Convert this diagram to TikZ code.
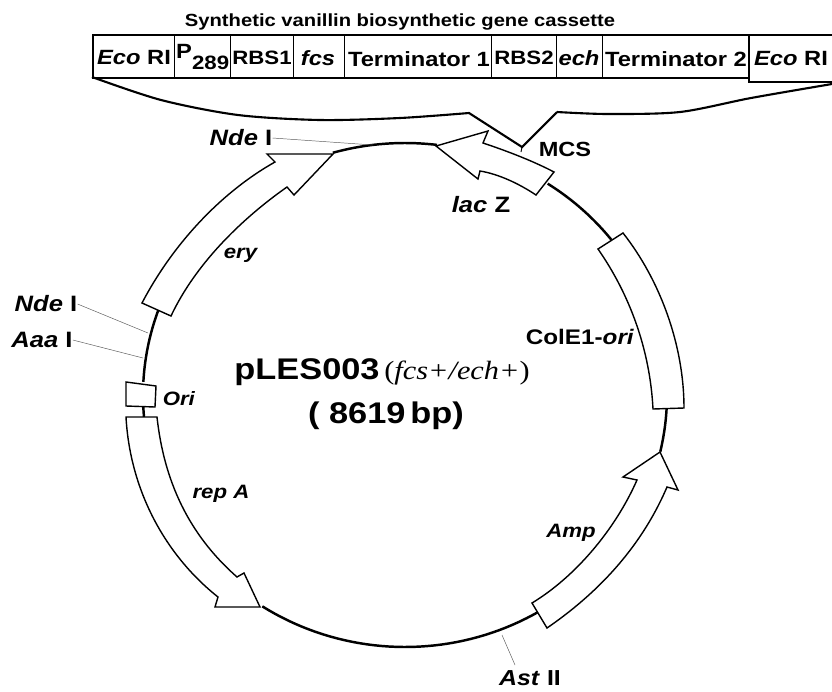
\documentclass[tikz,border=0pt]{standalone}
\usepackage{fontspec}
\setmainfont[FakeStretch=1.15]{Liberation Sans}
\newfontfamily\plasmidserif[FakeStretch=1.15]{Liberation Serif}
\newcommand{\gname}[1]{\textbf{\textit{#1}}}
\tikzset{
  gene/.style={line width=1.2pt, line join=miter, fill=white},
  backbone/.style={line width=2.1pt},
  leader/.style={line width=0.4pt, gray!70!black},
  cassette/.style={font=\bfseries\fontsize{17.6}{20}\selectfont, inner sep=0pt},
  lbl/.style={font=\bfseries\fontsize{16.5}{19}\selectfont, inner sep=0pt},
  lblbig/.style={font=\bfseries\fontsize{19}{22}\selectfont, inner sep=0pt}
}
\begin{document}
\begin{tikzpicture}[x=0.03cm,y=-0.03cm]

  \useasboundingbox (0,0) rectangle (832,691);

  % Cassette
  \node[cassette,font=\bfseries\fontsize{15}{18}\selectfont] (title) at (400,22)
    {Synthetic vanillin biosynthetic gene cassette};

  \draw[line width=1.3pt]
    (832,35) -- (93,35) -- (93,78) -- (749,78) -- (749,82) -- (832,82);
  \draw[line width=1.3pt] (749,35) -- (749,78);
  \foreach \sepx in {174,230,293,344,491,556,602}
    \draw[line width=0.5pt] (\sepx,35) -- (\sepx,78);

  \node[cassette] (ecoa) at (134,58) {\gname{Eco} RI};
  \node[cassette,anchor=west] (prom) at (176,57)
    {\raisebox{3pt}{P}\raisebox{-6pt}{\fontsize{16.5}{18}\selectfont 289}};
  \node[cassette,font=\bfseries\fontsize{16.5}{20}\selectfont] (rbsa) at (262,58) {RBS1};
  \node[cassette] (fcs) at (318,58) {\gname{fcs}};
  \node[cassette] (terma) at (419,59) {Terminator 1};
  \node[cassette,font=\bfseries\fontsize{16.5}{20}\selectfont] (rbsb) at (524,58) {RBS2};
  \node[cassette] (ech) at (579,58) {\gname{ech}};
  \node[cassette] (termb) at (676,59) {Terminator 2};
  \node[cassette] (ecob) at (791,59) {\gname{Eco} RI};

  % Embudo
  \draw[line width=1.8pt]
    plot[smooth,tension=0.5] coordinates {(92,77) (161,100) (238,115) (320,120) (400,118) (469,113)}
    -- (522,147) -- (557,112)
    plot[smooth,tension=0.5] coordinates {(557,112) (608,114) (680,112) (751,98) (832,84)};
  \draw[line width=0.8pt] (522,147) -- (521,152);

  % Plasmido
  \draw[backbone,domain=106:83,samples=30,variable=\t]
    plot ({405+262*cos(\t)},{395-252*sin(\t)});
  \draw[backbone,domain=57:38,samples=30,variable=\t]
    plot ({405+262*cos(\t)},{395-252*sin(\t)});
  \draw[backbone,domain=-2:-13,samples=10,variable=\t]
    plot ({405+262*cos(\t)},{395-252*sin(\t)});
  \draw[backbone,domain=-59:-123,samples=40,variable=\t]
    plot ({405+262*cos(\t)},{395-252*sin(\t)});
  \draw[backbone,domain=177:160,samples=20,variable=\t]
    plot ({405+262*cos(\t)},{395-252*sin(\t)});
  \draw[backbone,domain=182.5:185,samples=5,variable=\t]
    plot ({405+262*cos(\t)},{395-252*sin(\t)});

  % lac Z
  \draw[gene]
    (436,146) -- (488,131) -- (483,143)
    .. controls (510,152) and (535,162) .. (554,172)
    -- (536,195)
    .. controls (518,183) and (498,174) .. (480,171)
    -- (478,179) -- cycle;

  % ery
  \draw[gene]
    (333,154) -- (267,154) -- (275,162)
    .. controls (225,190) and (175,240) .. (142,303)
    -- (171,316)
    .. controls (195,265) and (240,220) .. (287,187)
    -- (294,195) -- cycle;

  % ColE1
  \draw[gene]
    (623,233) .. controls (660,280) and (684,345) .. (684,408)
    -- (653,409)
    .. controls (650,350) and (630,295) .. (598,249) -- cycle;

  % Amp
  \draw[gene]
    (660,452) -- (678,490) -- (667,487)
    .. controls (640,550) and (595,595) .. (547,628)
    -- (532,603)
    .. controls (575,577) and (615,530) .. (637,480)
    -- (623,477) -- cycle;

  % rep A
  \draw[gene]
    (157,417) .. controls (165,490) and (195,540) .. (237,577)
    -- (244,573) -- (260,607) -- (215,607) -- (218,597)
    .. controls (165,555) and (130,490) .. (126,417) -- cycle;

  % Ori
  \draw[gene] (126,382) -- (156,386) -- (155,407) -- (126,406) -- cycle;

  % Etiquetas
  \coordinate (ndetopsite) at (373,145);
  \coordinate (ndeleftsite) at (148,333);
  \coordinate (aaasite) at (143,358);
  \coordinate (astsite) at (502,635);
  \coordinate (astend) at (515,665);

  \node[lblbig] (ndetop) at (241,138) {\gname{Nde} I};
  \node[lblbig] (ndeleft) at (46,304) {\gname{Nde} I};
  \node[lblbig] (aaa) at (42,340) {\gname{Aaa} I};
  \node[lblbig,font=\bfseries\fontsize{18.5}{21}\selectfont] (ast) at (530,678) {\gname{Ast} II};
  \node[lbl,font=\bfseries\fontsize{17.5}{20}\selectfont] (mcs) at (565,149) {MCS};
  \node[lblbig] (lacz) at (481,205) {\gname{lac} Z};
  \node[lbl] (ery) at (241,255) {\gname{ery}};
  \node[lbl,font=\bfseries\fontsize{18}{21}\selectfont] (cole) at (580,337) {ColE1-\gname{ori}};
  \node[lbl] (ori) at (179,399) {\gname{Ori}};
  \node[lbl] (repa) at (221,494) {\gname{rep A}};
  \node[lbl] (amp) at (571,533) {\gname{Amp}};

  \draw[leader] (ndetop.east) -- (ndetopsite);
  \draw[leader] (ndeleft.east) -- (ndeleftsite);
  \draw[leader] (aaa.east) -- (aaasite);
  \draw[leader] (astend) -- (astsite);

  % Centro
  \node[inner sep=0pt,anchor=base,font=\bfseries\fontsize{25.5}{30}\selectfont] (name) at (307,379) {pLES003};
  \node[inner sep=0pt,anchor=base,font=\plasmidserif\itshape\fontsize{22.5}{26}\selectfont] (geno) at (457,379) {\upshape(\itshape fcs+/ech+\upshape)};
  \node[inner sep=0pt,anchor=base,font=\bfseries\fontsize{25.5}{30}\selectfont] (size) at (386,423) {( 8619\,bp)};

\end{tikzpicture}
\end{document}
